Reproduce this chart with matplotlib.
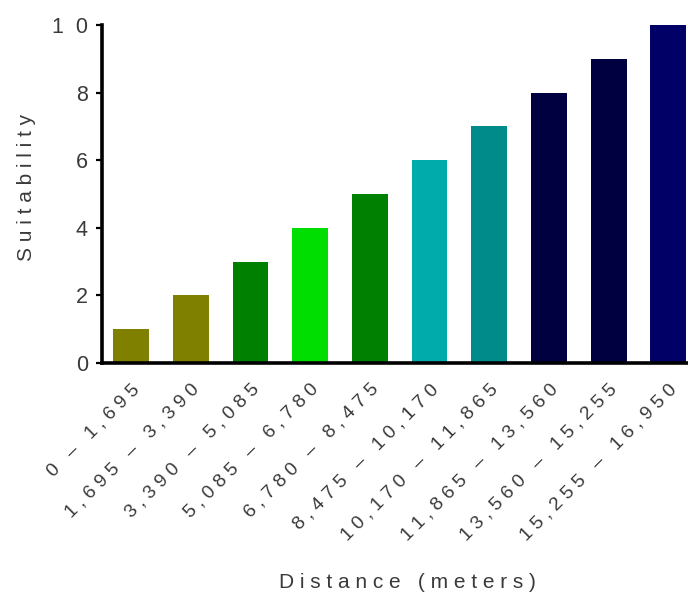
import matplotlib.pyplot as plt
import matplotlib.transforms as mtransforms

# data
ranges = ['0 – 1,695', '1,695 – 3,390', '3,390 – 5,085', '5,085 – 6,780',
          '6,780 – 8,475', '8,475 – 10,170', '10,170 – 11,865',
          '11,865 – 13,560', '13,560 – 15,255', '15,255 – 16,950']
suitability = [1, 2, 3, 4, 5, 6, 7, 8, 9, 10]
bar_colors = ['#808000', '#808000', '#008000', '#00DD00', '#008000',
              '#00ABAB', '#008B8B', '#000040', '#000040', '#000066']
yticks = [0, 2, 4, 6, 8, 10]


def spaced(s, gap=' '):
    "old-style letter spacing"
    return gap.join(list(s))


plt.rcParams['font.family'] = ['Liberation Sans', 'DejaVu Sans']
txt = '#3a3a3a'

fig = plt.figure(figsize=(6.88, 5.95), dpi=100)
ax = fig.add_axes([0.148, 0.39, 0.852, 0.568])

pos = list(range(len(suitability)))
ax.bar(pos, suitability, width=0.6, color=bar_colors)

ax.set_xlim(-0.49, 9.33)
ax.set_ylim(0, 10)
ax.spines['top'].set_visible(False)
ax.spines['right'].set_visible(False)
ax.spines['left'].set_linewidth(2.6)
ax.spines['bottom'].set_linewidth(2.6)
ax.spines['bottom'].set_capstyle('projecting')

ax.set_yticks(yticks)
ax.set_yticklabels([spaced(str(v), '  ') for v in yticks], fontsize=15.5, color=txt)
ax.tick_params(axis='y', direction='out', length=4, width=1.6, pad=6)

ax.set_xticks(pos)
ax.set_xticklabels([spaced(r) for r in ranges],
                   rotation=45, ha='right', va='top', rotation_mode='anchor',
                   fontsize=13.8, color=txt)
ax.tick_params(axis='x', length=0, pad=2)
off = mtransforms.ScaledTranslation(0 / 100, -15 / 100, fig.dpi_scale_trans)
for lbl in ax.get_xticklabels():
    lbl.set_transform(lbl.get_transform() + off)

ax.set_ylabel(spaced('Suitability'), fontsize=15, color=txt, va='center')
ax.yaxis.set_label_coords(-0.128, 0.518)
ax.set_xlabel(spaced('Distance (meters)'), fontsize=15, color=txt, va='center')
ax.xaxis.set_label_coords(0.522, -0.651)

plt.savefig('out.png', dpi=100)
